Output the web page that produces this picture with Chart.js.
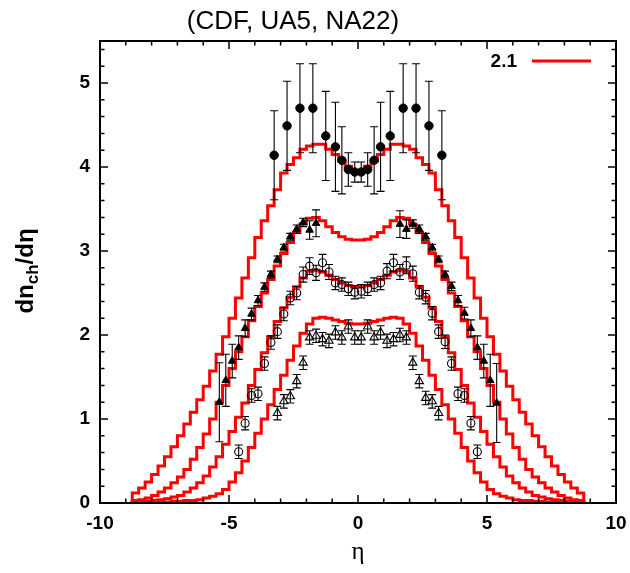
<!DOCTYPE html>
<html>
<head>
<meta charset="utf-8">
<script src="https://cdn.jsdelivr.net/npm/chart.js@4.4.0/dist/chart.umd.min.js"></script>
<style>
  body { margin: 0; background: #fff; }
</style>
</head>
<body>
<canvas id="myChart" width="630" height="573"></canvas>
<script>
// model histograms: bins of 0.25 in eta, from -8.75 to 8.75
var binStart = -8.75;
var binWidth = 0.25;

var curve1800 = [0.12,0.18,0.25,0.34,0.44,0.55,0.67,0.80,0.94,1.08,1.23,1.39,1.57,1.77,1.98,2.20,2.44,2.68,2.92,3.16,3.36,3.54,3.73,3.93,4.03,4.11,4.21,4.25,4.27,4.27,4.21,4.15,4.07,4.01,3.95,
                 3.95,4.01,4.07,4.15,4.21,4.27,4.27,4.25,4.21,4.11,4.03,3.93,3.73,3.54,3.36,3.16,2.92,2.68,2.44,2.20,1.98,1.77,1.57,1.39,1.23,1.08,0.94,0.80,0.67,0.55,0.44,0.34,0.25,0.18,0.12];
var curve900 = [0.03,0.04,0.06,0.09,0.13,0.18,0.24,0.31,0.40,0.52,0.66,0.82,1.00,1.20,1.40,1.60,1.80,1.98,2.17,2.34,2.50,2.66,2.82,2.97,3.10,3.22,3.32,3.39,3.40,3.36,3.29,3.22,3.17,3.14,3.13,
                3.13,3.14,3.17,3.22,3.29,3.36,3.40,3.39,3.32,3.22,3.10,2.97,2.82,2.66,2.50,2.34,2.17,1.98,1.80,1.60,1.40,1.20,1.00,0.82,0.66,0.52,0.40,0.31,0.24,0.18,0.13,0.09,0.06,0.04,0.03];
var curve546 = [0.01,0.02,0.02,0.03,0.04,0.05,0.07,0.09,0.13,0.18,0.24,0.32,0.43,0.55,0.70,0.85,1.02,1.19,1.40,1.59,1.79,1.98,2.16,2.32,2.45,2.57,2.68,2.76,2.77,2.75,2.71,2.66,2.62,2.59,2.57,
                2.57,2.59,2.62,2.66,2.71,2.75,2.77,2.76,2.68,2.57,2.45,2.32,2.16,1.98,1.79,1.59,1.40,1.19,1.02,0.85,0.70,0.55,0.43,0.32,0.24,0.18,0.13,0.09,0.07,0.05,0.04,0.03,0.02,0.02,0.01];
var curve200 = [0.01,0.01,0.01,0.01,0.01,0.01,0.02,0.02,0.03,0.03,0.04,0.06,0.08,0.11,0.16,0.25,0.36,0.50,0.66,0.83,1.00,1.17,1.35,1.52,1.70,1.87,2.02,2.13,2.20,2.21,2.20,2.18,2.16,2.14,2.13,
                2.13,2.14,2.16,2.18,2.20,2.21,2.20,2.13,2.02,1.87,1.70,1.52,1.35,1.17,1.00,0.83,0.66,0.50,0.36,0.25,0.16,0.11,0.08,0.06,0.04,0.03,0.03,0.02,0.02,0.01,0.01,0.01,0.01,0.01,0.01];

// data points (filled circles)
var cdfEta = [-3.25,-2.75,-2.25,-1.75,-1.25,-0.875,-0.625,-0.375,-0.125,0.125,0.375,0.625,0.875,1.25,1.75,2.25,2.75,3.25];
var cdfVal = [4.14,4.49,4.70,4.70,4.37,4.24,4.08,3.97,3.94,3.94,3.97,4.08,4.24,4.37,4.70,4.70,4.49,4.14];
var cdfErr = [0.53,0.53,0.53,0.53,0.53,0.53,0.40,0.20,0.12,0.12,0.20,0.40,0.53,0.53,0.53,0.53,0.53,0.53];

// filled triangles
var ua5hEta = [-5.375,-5.125,-4.875,-4.625,-4.375,-4.125,-3.875,-3.625,-3.375,-3.125,-2.875,-2.625,-2.375,-2.125,-1.875,-1.625,
               1.625,1.875,2.125,2.375,2.625,2.875,3.125,3.375,3.625,3.875,4.125,4.375,4.625,4.875,5.125,5.375];
var ua5hVal = [1.20,1.46,1.69,1.85,2.08,2.25,2.41,2.57,2.72,2.90,3.04,3.17,3.26,3.34,3.25,3.33,
               3.32,3.26,3.32,3.26,3.17,3.04,2.90,2.72,2.58,2.41,2.26,2.08,1.85,1.69,1.46,1.19];
var ua5hErr = [0.47,0.31,0.20,0.14,0.10,0.07,0.06,0.05,0.04,0.04,0.04,0.04,0.05,0.05,0.11,0.16,
               0.16,0.11,0.05,0.05,0.04,0.04,0.04,0.04,0.05,0.06,0.07,0.10,0.14,0.20,0.31,0.47];

// open circles
var ua5mEta = [-4.625,-4.375,-4.125,-3.875,-3.625,-3.375,-3.125,-2.875,-2.625,-2.375,-2.125,-1.875,-1.625,-1.375,-1.125,-0.875,-0.625,-0.375,-0.125,
               0.125,0.375,0.625,0.875,1.125,1.375,1.625,1.875,2.125,2.375,2.625,2.875,3.125,3.375,3.625,3.875,4.125,4.375,4.625];
var ua5mVal = [0.61,0.95,1.28,1.30,1.66,1.91,2.04,2.25,2.44,2.50,2.72,2.82,2.74,2.86,2.75,2.62,2.60,2.55,2.51,
               2.52,2.55,2.60,2.62,2.76,2.86,2.75,2.83,2.73,2.51,2.45,2.26,2.04,1.92,1.66,1.30,1.28,0.95,0.61];
var ua5mErr = [0.08,0.08,0.08,0.08,0.08,0.08,0.08,0.08,0.08,0.08,0.09,0.10,0.09,0.10,0.09,0.08,0.08,0.08,0.08,
               0.08,0.08,0.08,0.08,0.09,0.10,0.09,0.10,0.09,0.08,0.08,0.08,0.08,0.08,0.08,0.08,0.08,0.08,0.08];

// open triangles
var ua5lEta = [-3.125,-2.875,-2.625,-2.375,-2.125,-1.875,-1.625,-1.375,-1.125,-0.875,-0.625,-0.375,-0.125,
               0.125,0.375,0.625,0.875,1.125,1.375,1.625,1.875,2.125,2.375,2.625,2.875,3.125];
var ua5lVal = [1.07,1.21,1.27,1.45,1.67,1.97,1.99,1.95,1.93,2.03,1.97,2.10,1.97,
               1.97,2.10,1.97,2.03,1.93,1.95,2.00,1.97,1.67,1.45,1.25,1.21,1.07];
var ua5lErr = [0.08,0.08,0.08,0.08,0.08,0.08,0.08,0.08,0.08,0.08,0.08,0.08,0.08,
               0.08,0.08,0.08,0.08,0.08,0.08,0.08,0.08,0.08,0.08,0.08,0.08,0.08];

var xTicks = [-10, -5, 0, 5, 10];
var yTicks = [0, 1, 2, 3, 4, 5];
var legendText = '2.1';
var titleText = '(CDF, UA5, NA22)';

function stepPoints(vals) {
    var pts = [{x: binStart, y: 0}];
    vals.forEach(function (v, i) {
        pts.push({x: binStart + (i + 1) * binWidth, y: v});
    });
    pts.push({x: binStart + vals.length * binWidth, y: 0});
    return pts;
}
function pairs(xs, ys) {
    return xs.map(function (x, i) { return {x: x, y: ys[i]}; });
}
function curveSet(vals) {
    return {
        type: 'line',
        data: stepPoints(vals),
        stepped: 'after',
        borderColor: '#ff0000',
        borderWidth: 3,
        pointRadius: 0,
        fill: false,
        order: 5
    };
}
function pointSet(xs, ys, errs, style, r, filled) {
    return {
        type: 'scatter',
        data: pairs(xs, ys),
        errs: errs,
        pointStyle: style,
        pointRadius: r,
        backgroundColor: filled ? '#000' : 'rgba(0,0,0,0)',
        borderColor: '#000',
        borderWidth: filled ? 1 : 1.1,
        order: 1
    };
}

var decor = {
    id: 'decor',
    beforeDraw: function (chart) {
        var c = chart.ctx;
        c.save();
        c.fillStyle = '#fff';
        c.fillRect(0, 0, chart.width, chart.height);
        c.restore();
    },
    afterDatasetsDraw: function (chart) {
        var c = chart.ctx, xs = chart.scales.x, ys = chart.scales.y, a = chart.chartArea;
        c.save();
        // error bars
        c.strokeStyle = '#000';
        c.lineWidth = 1.1;
        chart.data.datasets.forEach(function (ds) {
            if (!ds.errs) return;
            ds.data.forEach(function (p, i) {
                var px = xs.getPixelForValue(p.x);
                var y1 = ys.getPixelForValue(p.y - ds.errs[i]);
                var y2 = ys.getPixelForValue(p.y + ds.errs[i]);
                c.beginPath();
                c.moveTo(px, y1); c.lineTo(px, y2);
                c.moveTo(px - 4, y1); c.lineTo(px + 4, y1);
                c.moveTo(px - 4, y2); c.lineTo(px + 4, y2);
                c.stroke();
            });
        });
        // frame and inward ticks
        c.lineWidth = 2;
        c.strokeRect(a.left, a.top, a.right - a.left, a.bottom - a.top);
        c.lineWidth = 1.5;
        c.beginPath();
        for (var t = -10; t <= 10; t++) {
            var px = xs.getPixelForValue(t);
            var len = (t % 5 === 0) ? 8 : 4.5;
            c.moveTo(px, a.bottom); c.lineTo(px, a.bottom - len);
            c.moveTo(px, a.top); c.lineTo(px, a.top + len);
        }
        for (var k = 0; k <= 27; k++) {
            var py = ys.getPixelForValue(k * 0.2);
            var ln = (k % 5 === 0) ? 8 : 4.5;
            c.moveTo(a.left, py); c.lineTo(a.left + ln, py);
            c.moveTo(a.right, py); c.lineTo(a.right - ln, py);
        }
        c.stroke();
        // key
        c.fillStyle = '#000';
        c.font = 'bold 19px "Liberation Sans", Arial, sans-serif';
        c.textAlign = 'right';
        c.textBaseline = 'middle';
        c.fillText(legendText, 517, 62);
        c.strokeStyle = '#ff0000';
        c.lineWidth = 3;
        c.beginPath();
        c.moveTo(532, 61); c.lineTo(591, 61);
        c.stroke();
        // title
        c.font = '26px "Liberation Sans", Arial, sans-serif';
        c.textAlign = 'center';
        c.fillText(titleText, 293, 22);
        // x title
        c.font = '25px "Liberation Serif", serif';
        c.fillText('\u03b7', (a.left + a.right) / 2, 552);
        // y title with subscript
        c.translate(33, 271);
        c.rotate(-Math.PI / 2);
        c.textAlign = 'left';
        c.textBaseline = 'alphabetic';
        var big = 'bold 24px "Liberation Sans", Arial, sans-serif';
        var small = 'bold 17px "Liberation Sans", Arial, sans-serif';
        c.font = big; var w1 = c.measureText('dn').width; var w3 = c.measureText('/d\u03b7').width;
        c.font = small; var w2 = c.measureText('ch').width;
        var x0 = -(w1 + w2 + w3) / 2;
        c.font = big; c.fillText('dn', x0, 0);
        c.font = small; c.fillText('ch', x0 + w1, 5);
        c.font = big; c.fillText('/d\u03b7', x0 + w1 + w2, 0);
        c.restore();
    }
};

var ctx = document.getElementById('myChart').getContext('2d');
var myChart = new Chart(ctx, {
    type: 'scatter',
    data: {
        datasets: [
            pointSet(cdfEta, cdfVal, cdfErr, 'circle', 4.2, true),
            pointSet(ua5hEta, ua5hVal, ua5hErr, 'triangle', 4.4, true),
            pointSet(ua5mEta, ua5mVal, ua5mErr, 'circle', 4.0, false),
            pointSet(ua5lEta, ua5lVal, ua5lErr, 'triangle', 4.8, false),
            curveSet(curve1800),
            curveSet(curve900),
            curveSet(curve546),
            curveSet(curve200)
        ]
    },
    options: {
        responsive: false,
        animation: false,
        devicePixelRatio: 1,
        layout: { padding: { top: 41, right: 14, left: 0, bottom: 0 } },
        plugins: {
            legend: { display: false },
            tooltip: { enabled: false }
        },
        scales: {
            x: {
                type: 'linear',
                min: -10,
                max: 10,
                afterFit: function (s) { s.height = 70; s.paddingLeft = 0; s.paddingRight = 0; },
                afterBuildTicks: function (s) { s.ticks = xTicks.map(function (v) { return {value: v}; }); },
                grid: { display: false, drawTicks: false },
                border: { display: false },
                ticks: {
                    color: '#000',
                    padding: 9,
                    maxRotation: 0,
                    font: { family: '"Liberation Sans", Arial, sans-serif', size: 19, weight: 'bold' }
                }
            },
            y: {
                min: 0,
                max: 5.5,
                afterFit: function (s) { s.width = 100; s.paddingTop = 0; s.paddingBottom = 0; },
                afterBuildTicks: function (s) { s.ticks = yTicks.map(function (v) { return {value: v}; }); },
                grid: { display: false, drawTicks: false },
                border: { display: false },
                ticks: {
                    color: '#000',
                    padding: 10,
                    font: { family: '"Liberation Sans", Arial, sans-serif', size: 19, weight: 'bold' }
                }
            }
        }
    },
    plugins: [decor]
});
</script>
</body>
</html>
